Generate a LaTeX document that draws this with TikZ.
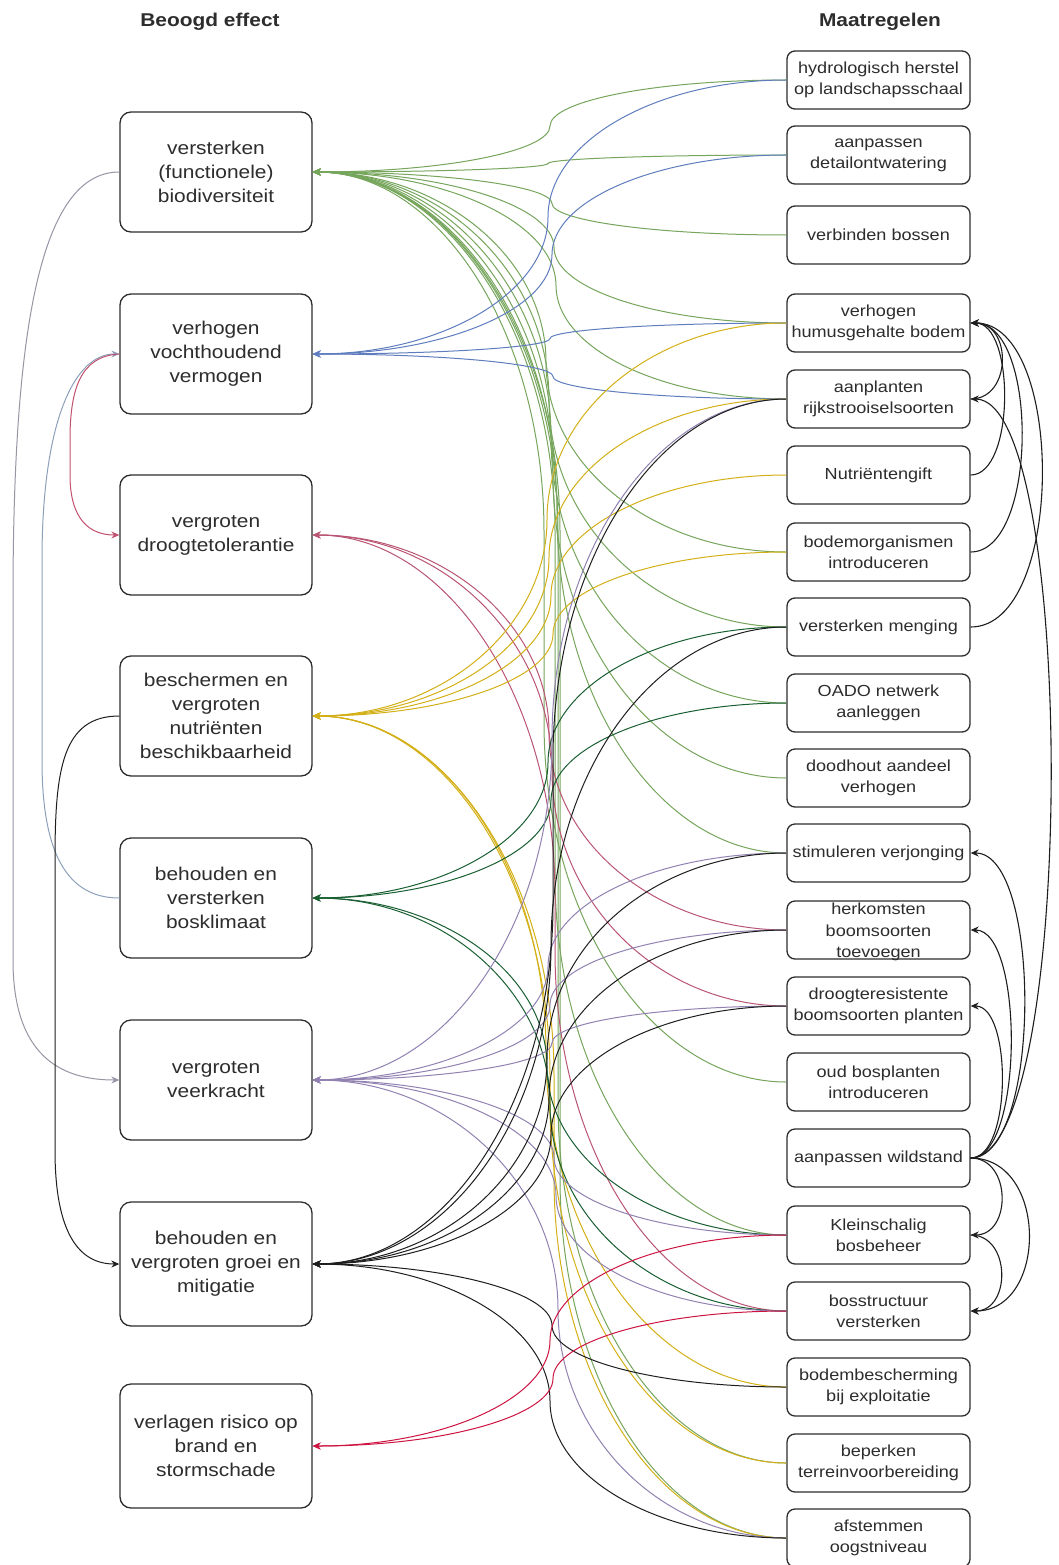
\documentclass[tikz,border=0pt]{standalone}
\usepackage{fontspec}
\setmainfont{Liberation Sans}[FakeStretch=1.13]
\usetikzlibrary{arrows.meta,calc}
\definecolor{txt}{RGB}{45,45,45}
\definecolor{cA}{RGB}{118,165,92}
\definecolor{cB}{RGB}{95,125,190}
\definecolor{cC}{RGB}{185,85,115}
\definecolor{cD}{RGB}{212,176,24}
\definecolor{cE}{RGB}{25,95,50}
\definecolor{cF}{RGB}{145,130,178}
\definecolor{cG}{RGB}{30,30,30}
\definecolor{cH}{RGB}{205,20,65}
\definecolor{sGray}{RGB}{150,150,165}
\definecolor{sBlue}{RGB}{140,160,188}
\definecolor{sRed}{RGB}{195,80,110}
\newcommand\lnk[4][550pt]{%
  \draw[lnkstyle,#4] let \p1=(#2.west), \p2=(#3.east),
    \n1={min(abs((\y2)-(\y1))/2,360)}, \n2={ifthenelse((\y2)>(\y1),1,-1)} in
    (\p1) .. controls ({\x1+0.55*(#1-\x1)},\y1) and (#1,{\y1+0.45*(\n2)*(\n1)}) ..
    (#1,{\y1+(\n2)*(\n1)}) -- (#1,{\y2-(\n2)*(\n1)}) ..
    controls (#1,{\y2-0.45*(\n2)*(\n1)}) and ({\x2+0.55*(#1-\x2)},\y2) .. (\p2);}
\newcommand\mlnk[3]{\draw[mstyle] (#1.east) to[out=0,in=0,looseness=#3] (#2.east);}
\begin{document}
\begin{tikzpicture}[x=1pt,y=-1pt,
  eff/.style={draw=txt, line width=1.3pt, rounded corners=11pt, fill=white,
    minimum width=192pt, minimum height=120pt, align=center, text=txt,
    font=\fontsize{18.5}{24}\selectfont, inner sep=2pt},
  mea/.style={draw=txt, line width=1.3pt, rounded corners=8pt, fill=white,
    minimum width=183pt, minimum height=58pt, align=center, text=txt,
    font=\fontsize{16}{21}\selectfont, inner sep=1pt},
  meatxt/.style={align=center, text=txt, font=\fontsize{16}{21.5}\selectfont, inner sep=0pt},
  hdr/.style={font=\bfseries\fontsize{18.5}{22}\selectfont, text=txt},
  lnkstyle/.style={line width=1pt, -{Stealth[length=8pt,width=7pt]}},
  mstyle/.style={line width=1.1pt, draw=cG, -{Stealth[length=8pt,width=7pt]}},
  side/.style={line width=1pt, -{Stealth[length=8pt,width=7pt]}}
]
\useasboundingbox (0,0) rectangle (1059,1565);
\fill[white] (0,0) rectangle (1059,1565);
\node[hdr] (h1) at (210,22) {Beoogd effect};
\node[hdr] (h2) at (880,22) {Maatregelen};
% effects
\node[eff] (e1) at (216,172) {versterken\\(functionele)\\biodiversiteit};
\node[eff] (e2) at (216,354) {verhogen\\vochthoudend\\vermogen};
\node[eff] (e3) at (216,535) {vergroten\\droogtetolerantie};
\node[eff] (e4) at (216,716) {beschermen en\\vergroten\\nutriënten\\beschikbaarheid};
\node[eff] (e5) at (216,898) {behouden en\\versterken\\bosklimaat};
\node[eff] (e6) at (216,1080) {vergroten\\veerkracht};
\node[eff, minimum height=124pt] (e7) at (216,1264) {behouden en\\vergroten groei en\\mitigatie};
\node[eff, minimum height=124pt] (e8) at (216,1446) {verlagen risico op\\brand en\\stormschade};
% measures
\node[mea] (m1) at (878.5,80) {hydrologisch herstel\\op landschapsschaal};
\node[mea] (m2) at (878.5,155) {aanpassen\\detailontwatering};
\node[mea] (m3) at (878.5,235) {verbinden bossen};
\node[mea] (m4) at (878.5,323) {verhogen\\humusgehalte bodem};
\node[mea] (m5) at (878.5,399) {aanplanten\\rijkstrooiselsoorten};
\node[mea] (m6) at (878.5,475) {Nutriëntengift};
\node[mea] (m7) at (878.5,552) {bodemorganismen\\introduceren};
\node[mea] (m8) at (878.5,627) {versterken menging};
\node[mea] (m9) at (878.5,703) {OADO netwerk\\aanleggen};
\node[mea] (m10) at (878.5,778) {doodhout aandeel\\verhogen};
\node[mea] (m11) at (878.5,853) {stimuleren verjonging};
\node[mea] (m12) at (878.5,930) {};
\node[meatxt] (m12t) at ([yshift=-2pt]m12.center) {herkomsten\\boomsoorten\\toevoegen};
\node[mea] (m13) at (878.5,1006) {droogteresistente\\boomsoorten planten};
\node[mea] (m14) at (878.5,1082) {oud bosplanten\\introduceren};
\node[mea] (m15) at (878.5,1158) {aanpassen wildstand};
\node[mea] (m16) at (878.5,1235) {Kleinschalig\\bosbeheer};
\node[mea] (m17) at (878.5,1311) {bosstructuur\\versterken};
\node[mea] (m18) at (878.5,1387) {bodembescherming\\bij exploitatie};
\node[mea] (m19) at (878.5,1463) {beperken\\terreinvoorbereiding};
\node[mea] (m20) at (878.5,1538) {afstemmen\\oogstniveau};
% E1 biodiversiteit
\lnk[550pt]{m1}{e1}{cA}
\lnk[548pt]{m2}{e1}{cA}
\lnk[552pt]{m3}{e1}{cA}
\lnk[554pt]{m4}{e1}{cA}
\lnk[556pt]{m5}{e1}{cA}
\lnk[546pt]{m7}{e1}{cA}
\lnk[549pt]{m8}{e1}{cA}
\lnk[551pt]{m9}{e1}{cA}
\lnk[553pt]{m10}{e1}{cA}
\lnk[557pt]{m11}{e1}{cA}
\lnk[544pt]{m14}{e1}{cA}
\lnk[555pt]{m16}{e1}{cA}
\lnk[558pt]{m19}{e1}{cA}
\lnk[560pt]{m20}{e1}{cA}
% E2 vochthoudend
\lnk[548pt]{m1}{e2}{cB}
\lnk[552pt]{m2}{e2}{cB}
\lnk[550pt]{m4}{e2}{cB}
\lnk[553pt]{m5}{e2}{cB}
% E3 droogtetolerantie
\lnk[549pt]{m12}{e3}{cC}
\lnk[552pt]{m13}{e3}{cC}
\lnk[555pt]{m17}{e3}{cC}
% E4 nutrienten
\lnk[547pt]{m4}{e4}{cD}
\lnk[549pt]{m5}{e4}{cD}
\lnk[551pt]{m6}{e4}{cD}
\lnk[553pt]{m7}{e4}{cD}
\lnk[546pt]{m18}{e4}{cD}
\lnk[550pt]{m19}{e4}{cD}
\lnk[554pt]{m20}{e4}{cD}
% E5 bosklimaat
\lnk[548pt]{m8}{e5}{cE}
\lnk[551pt]{m9}{e5}{cE}
\lnk[547pt]{m16}{e5}{cE}
\lnk[550pt]{m17}{e5}{cE}
% E6 veerkracht
\lnk[552pt]{m5}{e6}{cF}
\lnk[548pt]{m11}{e6}{cF}
\lnk[550pt]{m12}{e6}{cF}
\lnk[552pt]{m13}{e6}{cF}
\lnk[554pt]{m16}{e6}{cF}
\lnk[556pt]{m17}{e6}{cF}
\lnk[558pt]{m20}{e6}{cF}
% E7 groei
\lnk[553pt]{m5}{e7}{cG}
\lnk[551pt]{m8}{e7}{cG}
\lnk[547pt]{m11}{e7}{cG}
\lnk[549pt]{m12}{e7}{cG}
\lnk[551pt]{m13}{e7}{cG}
\lnk[552pt]{m18}{e7}{cG}
\lnk[550pt]{m20}{e7}{cG}
% E8 brand
\lnk[550pt]{m16}{e8}{cH}
\lnk[553pt]{m17}{e8}{cH}
% left side links between effects
\draw[side,sGray] (e1.west) .. controls (40,172) and (13,330) .. (13,600) -- (13,960)
  .. controls (13,1055) and (60,1080) .. (e6.west);
\draw[side,sBlue] (e5.west) .. controls (60,898) and (42,840) .. (42,760) -- (42,560)
  .. controls (42,420) and (75,354) .. (e2.west);
\draw[side,sRed] (e2.west) .. controls (80,356) and (70,390) .. (70,440) -- (70,475)
  .. controls (70,520) and (90,535) .. (e3.west);
\draw[side,cG] (e4.west) .. controls (62,716) and (55,770) .. (55,860) -- (55,1150)
  .. controls (55,1235) and (80,1264) .. (e7.west);
% right side links between measures
\mlnk{m5}{m4}{1.4}
\mlnk{m6}{m4}{0.75}
\mlnk{m7}{m4}{0.76}
\mlnk{m8}{m4}{0.8}
\mlnk{m15}{m5}{0.36}
\mlnk{m15}{m11}{0.6}
\mlnk{m15}{m12}{0.6}
\mlnk{m15}{m13}{0.7}
\mlnk{m15}{m16}{1.37}
\mlnk{m15}{m17}{1.3}
\mlnk{m16}{m17}{1.37}
\end{tikzpicture}
\end{document}
